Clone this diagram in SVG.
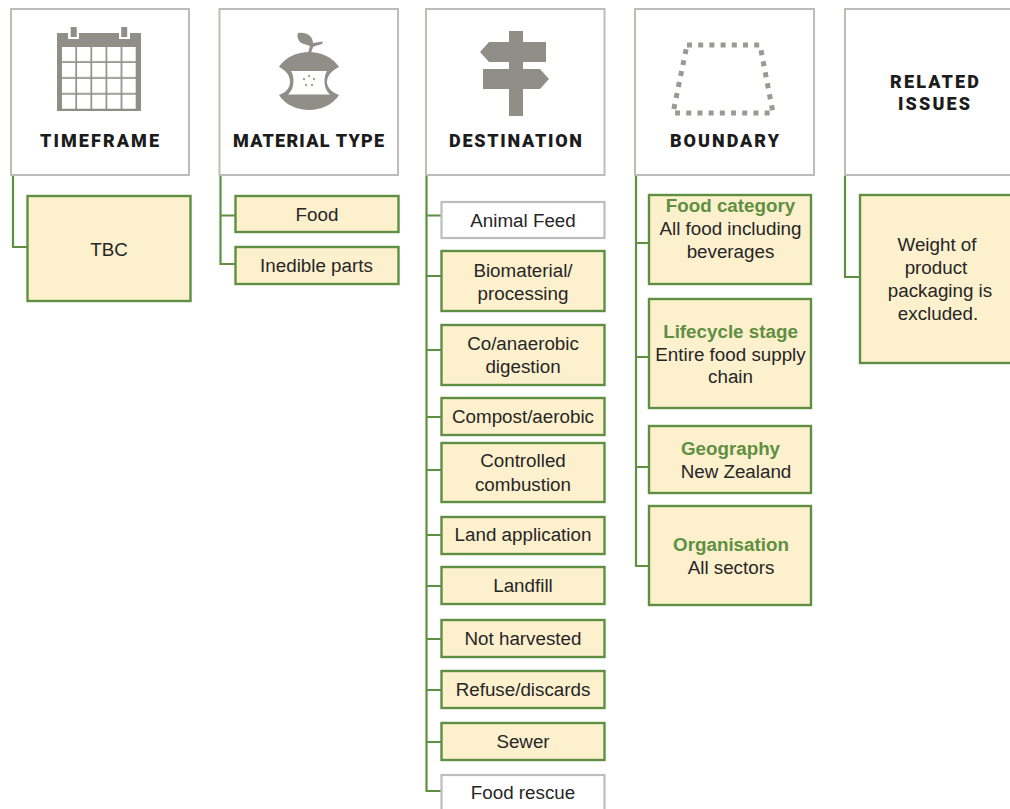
<svg xmlns="http://www.w3.org/2000/svg" width="1010" height="809" viewBox="0 0 1010 809">
<style>
.head{fill:#fff;stroke:#bdbdb8;stroke-width:2}
.box{fill:#fdf0cd;stroke:#5f8f42;stroke-width:2.4}
.plain{fill:#fff;stroke:#bdbdc0;stroke-width:2.2}
.conn{fill:none;stroke:#5f8f42;stroke-width:2.2}
.icon{fill:#8f8f87}
text{font-family:"Liberation Sans",Arial,sans-serif;font-size:18.8px;fill:#262626;text-anchor:middle}
.t{font-family:Roboto,"Liberation Sans",sans-serif;font-weight:900;font-size:18px;fill:#1c1c1c;text-anchor:start}
.g{font-weight:700;fill:#5f8f42}
</style>
<defs>
<pattern id="cal" patternUnits="userSpaceOnUse" x="62" y="47" width="15.1" height="15.9">
<rect width="13.4" height="14.2" fill="#fff"/>
</pattern>
</defs>
<rect width="1010" height="809" fill="#fff"/>
<g id="connectors">
<path class="conn" d="M13 175V247H28"/>
<path class="conn" d="M220.5 175V264H236M220.5 215.500H236"/>
<path class="conn" d="M426.500 175V791H442M426.500 215.500H442M426.500 276H442M426.500 350H442M426.500 417H442M426.500 470H442M426.500 535H442M426.500 586H442M426.500 639H442M426.500 690H442M426.500 742H442"/>
<path class="conn" d="M636 175V566H650M636 243H650M636 357H650M636 467H650"/>
<path class="conn" d="M845 175V277H861"/>
</g>
<g id="timeframe">
<rect class="head" x="11" y="9" width="178" height="166"/>
<rect class="icon" x="57" y="33" width="84" height="78"/>
<rect x="62" y="47" width="74" height="62" fill="url(#cal)"/>
<path fill="#fff" d="M68 27h11v12h-11zM119 27h11v12h-11z"/>
<path class="icon" d="M70.700 27h6v10h-6zM121.200 27h6v10h-6z"/>
<text class="t" x="40" y="146.500" textLength="119" lengthAdjust="spacing">TIMEFRAME</text>
</g>
<g id="tbc"><rect class="box" x="27.500" y="196" width="163" height="105"/><text x="109" y="256">TBC</text></g>
<g id="material-type">
<rect class="head" x="219.500" y="9" width="178.500" height="166"/>
<path class="icon" d="M279 67C285 57 298 52 309 52C320 52 333 57 339 67C331 71 327 76 327 82C327 87 331 92 339 95C333 105 320 110 309 110C298 110 285 105 279 95C287 92 290 87 290 82C290 76 287 71 279 67Z"/>
<path fill="#fff" d="M291 71H327C323.500 76 323 89 330 94.500H288C295 89 294.500 76 291 71Z"/>
<path class="icon" d="M308 53L310 46L301 43Q296 38 298 33Q306 32 311 37Q313 40 313 43Q318 42 323 41.500L322 44Q316 45.500 313 47L311 53Z"/>
<g fill="#a3a39c"><circle cx="309" cy="76" r="1.200"/><circle cx="304" cy="79" r="1.200"/><circle cx="314" cy="79" r="1.200"/><circle cx="306" cy="85" r="1.200"/><circle cx="312" cy="85" r="1.200"/></g>
<text class="t" x="233" y="146.500" textLength="151" lengthAdjust="spacing">MATERIAL TYPE</text>
</g>
<g id="food"><rect class="box" x="235.500" y="196" width="163" height="36"/><text x="317" y="220.500">Food</text></g>
<g id="inedible"><rect class="box" x="235.500" y="247" width="163" height="37"/><text x="316.500" y="272" font-size="20">Inedible parts</text></g>
<g id="destination">
<rect class="head" x="426" y="9" width="178.500" height="166"/>
<path class="icon" d="M509 31H523V42H546V62H523V69H540L549 79L540 89H523V116H509V89H483V69H509V62H489L480 52L489 42H509Z"/>
<text class="t" x="449" y="146.500" textLength="133" lengthAdjust="spacing">DESTINATION</text>
</g>
<g id="animal-feed"><rect class="plain" x="441.500" y="202" width="163" height="36"/><text x="523" y="227" font-size="19.400">Animal Feed</text></g>
<g id="biomaterial"><rect class="box" x="441.500" y="251" width="163" height="60"/><text x="523" y="277">Biomaterial/</text><text x="523" y="300">processing</text></g>
<g id="co-anaerobic"><rect class="box" x="441.500" y="325" width="163" height="60"/><text x="523" y="350">Co/anaerobic</text><text x="523" y="373">digestion</text></g>
<g id="compost"><rect class="box" x="441.500" y="398" width="163" height="37"/><text x="523" y="423">Compost/aerobic</text></g>
<g id="controlled"><rect class="box" x="441.500" y="443" width="163" height="59"/><text x="523" y="467">Controlled</text><text x="523" y="491">combustion</text></g>
<g id="land-application"><rect class="box" x="441.500" y="517" width="163" height="37"/><text x="523" y="541">Land application</text></g>
<g id="landfill"><rect class="box" x="441.500" y="567" width="163" height="37"/><text x="523" y="592">Landfill</text></g>
<g id="not-harvested"><rect class="box" x="441.500" y="620" width="163" height="37"/><text x="523" y="645">Not harvested</text></g>
<g id="refuse"><rect class="box" x="441.500" y="671" width="163" height="37"/><text x="523" y="696">Refuse/discards</text></g>
<g id="sewer"><rect class="box" x="441.500" y="723" width="163" height="37"/><text x="523" y="748">Sewer</text></g>
<g id="food-rescue"><rect class="plain" x="441.500" y="775" width="163" height="40"/><text x="523" y="799">Food rescue</text></g>
<g id="boundary">
<rect class="head" x="635" y="9" width="179" height="166"/>
<path fill="none" stroke="#9a9a92" stroke-width="5" stroke-dasharray="5 6.200" d="M687 45H760L773 113H673Z"/>
<text class="t" x="670" y="146.500" textLength="109" lengthAdjust="spacing">BOUNDARY</text>
</g>
<g id="food-category"><rect class="box" x="649" y="195" width="162" height="89"/><text class="g" x="730.500" y="212">Food category</text><text x="730.500" y="235">All food including</text><text x="730.500" y="258">beverages</text></g>
<g id="lifecycle"><rect class="box" x="649" y="299" width="162" height="109"/><text class="g" x="730.500" y="338">Lifecycle stage</text><text x="730.500" y="361">Entire food supply</text><text x="730.500" y="383">chain</text></g>
<g id="geography"><rect class="box" x="649" y="426" width="162" height="67"/><text class="g" x="730.500" y="455">Geography</text><text x="736" y="478">New Zealand</text></g>
<g id="organisation"><rect class="box" x="649" y="506" width="162" height="99"/><text class="g" x="731" y="551">Organisation</text><text x="731" y="574">All sectors</text></g>
<g id="related-issues">
<rect class="head" x="845" y="9" width="175" height="166"/>
<text class="t" x="890" y="88" textLength="89" lengthAdjust="spacing">RELATED</text>
<text class="t" x="898" y="110" textLength="72" lengthAdjust="spacing">ISSUES</text>
</g>
<g id="weight"><rect class="box" x="860" y="195" width="160" height="168"/><g font-size="18"><text x="937" y="251" font-size="18">Weight of</text><text x="936" y="274" font-size="18">product</text><text x="940" y="297" font-size="18">packaging is</text><text x="938" y="320" font-size="18">excluded.</text></g></g>
</svg>
